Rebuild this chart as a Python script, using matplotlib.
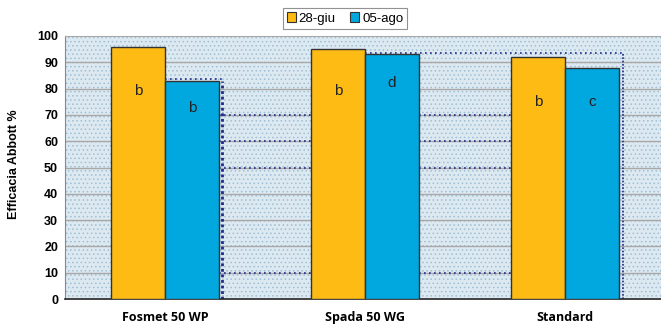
import matplotlib.pyplot as plt
from matplotlib.patches import Rectangle, Patch
import numpy as np

categories = ["Fosmet 50 WP", "Spada 50 WG", "Standard"]
series_names = ["28-giu", "05-ago"]
giu_values = [96, 95, 92]
ago_values = [83, 93, 88]
giu_letters = ["b", "b", "b"]
ago_letters = ["b", "d", "c"]
yticks = [0, 10, 20, 30, 40, 50, 60, 70, 80, 90, 100]

ORANGE = "#FDBB13"
BLUE = "#00A8DF"
NAVY = "#1F2A8C"

fig = plt.figure(figsize=(6.61, 3.24), dpi=100)
W, H = 661, 324
ax = fig.add_axes([65 / W, 25 / H, 600 / W, 263 / H])

# dotted plot-area background
ax.set_facecolor("#dde9f1")
plt.rcParams["hatch.color"] = "#9fbfd4"
plt.rcParams["hatch.linewidth"] = 0.6
ax.add_patch(Rectangle((-0.5, 0), 3, 100, facecolor="none", hatch="....",
                       edgecolor="#9fbfd4", linewidth=0, zorder=0))

x = np.arange(len(categories))
bw = 0.27
ax.bar(x - bw / 2, giu_values, bw, color=ORANGE, edgecolor="#333333",
       linewidth=1.0, zorder=3, label=series_names[0])
ax.bar(x + bw / 2, ago_values, bw, color=BLUE, edgecolor="#333333",
       linewidth=1.0, zorder=3, label=series_names[1])

# grid lines
for t in yticks[1:-1]:
    ax.axhline(t, color="#a8a8a8", linewidth=1.0, zorder=1)
# navy dotted lines in the gaps between groups
for t in [10, 50, 60, 70]:
    ax.plot([0.27, 0.73], [t, t], color=NAVY, linestyle=(0, (1, 2)),
            linewidth=1.2, zorder=2)
    ax.plot([1.27, 1.73], [t, t], color=NAVY, linestyle=(0, (1, 2)),
            linewidth=1.2, zorder=2)
ax.plot([0.285, 0.285], [0, ago_values[0]], color=NAVY,
        linestyle=(0, (1, 1)), linewidth=2.0, zorder=2)
ax.plot([0.0, 0.285], [ago_values[0] + 0.6] * 2, color=NAVY,
        linestyle=(0, (1, 2)), linewidth=1.2, zorder=2)
ax.plot([2.29, 2.29], [0, 93.5], color=NAVY,
        linestyle=(0, (1, 1)), linewidth=1.2, zorder=2)
ax.plot([1.0, 2.29], [93.5, 93.5], color=NAVY,
        linestyle=(0, (1, 2)), linewidth=1.2, zorder=2)

# significance letters
letter_y_giu = [79, 79, 75]
letter_y_ago = [72.8, 82, 75]
for i in range(len(categories)):
    ax.text(x[i] - bw / 2, letter_y_giu[i], giu_letters[i], ha="center",
            va="center", fontsize=11, color="#222222", zorder=4,
            family="Liberation Sans")
    ax.text(x[i] + bw / 2, letter_y_ago[i], ago_letters[i], ha="center",
            va="center", fontsize=11, color="#222222", zorder=4,
            family="Liberation Sans")

ax.set_xlim(-0.5, 2.5)
ax.set_ylim(0, 100)
ax.set_yticks(yticks)
ax.set_yticklabels([str(t) for t in yticks], fontsize=9,
                   fontweight="bold", family="Liberation Sans")
ax.set_xticks(x)
ax.set_xticklabels(categories, fontsize=9, fontweight="bold",
                   family="Open Sans")
ax.tick_params(axis="x", length=0, pad=8.5)
ax.tick_params(axis="y", length=0, pad=5)

ax.spines["bottom"].set_color("#222222")
ax.spines["bottom"].set_linewidth(1.2)
ax.spines["left"].set_color("#888888")
ax.spines["top"].set_color("#aaaaaa")
ax.spines["right"].set_visible(False)

fig.text(14 / W, 1 - 164 / H, "Efficacia Abbott %", rotation=90,
         ha="center", va="center", fontsize=9, fontweight="bold",
         family="Liberation Sans")

handles = [Patch(facecolor=ORANGE, edgecolor="#333333", linewidth=0.8),
           Patch(facecolor=BLUE, edgecolor="#333333", linewidth=0.8)]
leg = fig.legend(handles, series_names, loc="center",
                 bbox_to_anchor=(345 / W, 1 - 18.5 / H), ncol=2,
                 frameon=True, fancybox=False, edgecolor="#777777",
                 prop={"family": "Liberation Sans", "size": 9.5},
                 handlelength=0.7, handleheight=0.7, handletextpad=0.2,
                 columnspacing=1.1, borderpad=0.3, borderaxespad=0)
leg.get_frame().set_linewidth(0.8)

fig.savefig("out.png", dpi=100)
